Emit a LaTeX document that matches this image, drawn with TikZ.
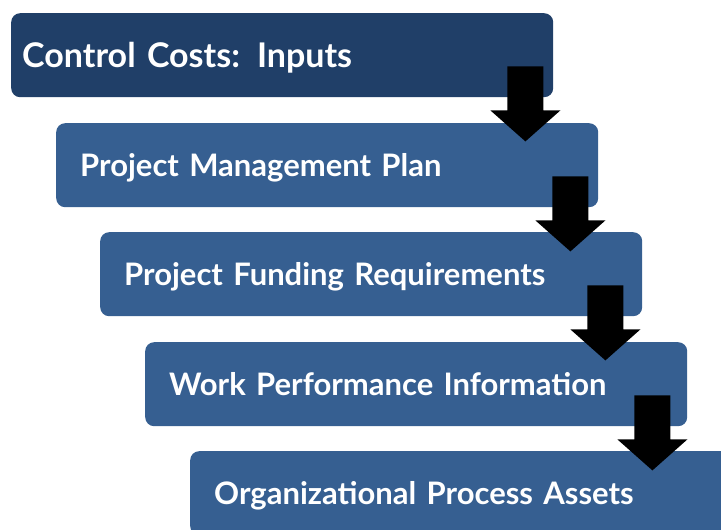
\documentclass[tikz,border=0pt]{standalone}
\usepackage{fontspec}
\setmainfont{Lato}
\usetikzlibrary{calc}
\definecolor{navy}{HTML}{203F68}
\definecolor{steel}{HTML}{365F91}
\tikzset{
  box/.style={rectangle, rounded corners=9pt, fill=steel, text=white,
    minimum height=84pt, text width=494pt, inner xsep=24pt, inner ysep=0pt,
    text depth=0pt, align=left, anchor=north west,
    font=\bfseries\fontsize{31}{34}\selectfont},
  titlebox/.style={box, fill=navy, inner xsep=11pt, text width=520pt,
    font=\bfseries\fontsize{34}{38}\selectfont},
  blockarrow/.style={fill=black}
}
\begin{document}
\begin{tikzpicture}[x=1pt,y=-1pt]
\useasboundingbox (0,0) rectangle (721,530);
\node[titlebox] (b1) at (11,13) {Control Costs: Inputs};
\node[box] (b2) at (56,123) {Project Management Plan};
\node[box] (b3) at (100,232) {Project Funding Requirements};
\node[box] (b4) at (145,342) {Work Performance Information};
\node[box] (b5) at (190,451) {Organizational Process Assets};
\foreach \b/\o in {b1/28,b2/28,b3/37,b4/35}{
  \coordinate (c) at ($(\b.south east)+(-\o,0)$);
  \fill[blockarrow] ($(c)+(-18,-31)$) -- ($(c)+(18,-31)$) -- ($(c)+(18,13)$)
    -- ($(c)+(35,13)$) -- ($(c)+(0,44)$) -- ($(c)+(-35,13)$)
    -- ($(c)+(-18,13)$) -- cycle;
}
\end{tikzpicture}
\end{document}
